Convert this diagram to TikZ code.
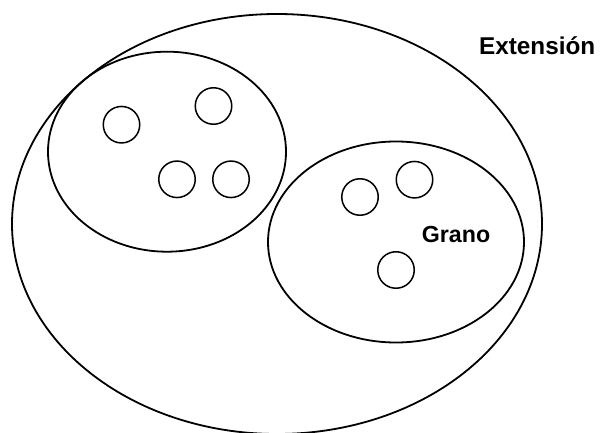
\documentclass[tikz,border=0pt]{standalone}
\usepackage{fontspec}
\setmainfont{Liberation Sans}
\usetikzlibrary{shapes.geometric}
\begin{document}
\begin{tikzpicture}[x=1pt,y=-1pt,
  region/.style={draw=black, ellipse, line width=1.8pt, inner sep=0pt},
  grain/.style={draw=black, ellipse, line width=1.5pt, inner sep=0pt, minimum width=36.5pt, minimum height=36.5pt},
  lbl/.style={anchor=base west, inner sep=0pt, font=\bfseries}]
\useasboundingbox (0,0) rectangle (600,433);
\clip (0,0) rectangle (600,433);
\fill[white] (0,0) rectangle (600,433);
\node[region, minimum width=530pt, minimum height=420pt] (ext) at (277,224) {};
\node[region, minimum width=238pt, minimum height=200pt] (left) at (167,151.7) {};
\node[region, minimum width=256pt, minimum height=201pt] (right) at (396,242) {};
\node[grain] (g1) at (121.5,124.7) {};
\node[grain] (g2) at (213.5,106) {};
\node[grain] (g3) at (177,179.3) {};
\node[grain] (g4) at (231,179.3) {};
\node[grain] (g5) at (360,197) {};
\node[grain] (g6) at (414.5,179.7) {};
\node[grain] (g7) at (396,270) {};
\node[lbl, font=\fontsize{24.3}{29}\selectfont\bfseries] (lext) at (478.9,54.5) {Extensión};
\node[lbl, font=\fontsize{23.2}{28}\selectfont\bfseries] (lgrano) at (421.7,242.3) {Grano};
\end{tikzpicture}
\end{document}
